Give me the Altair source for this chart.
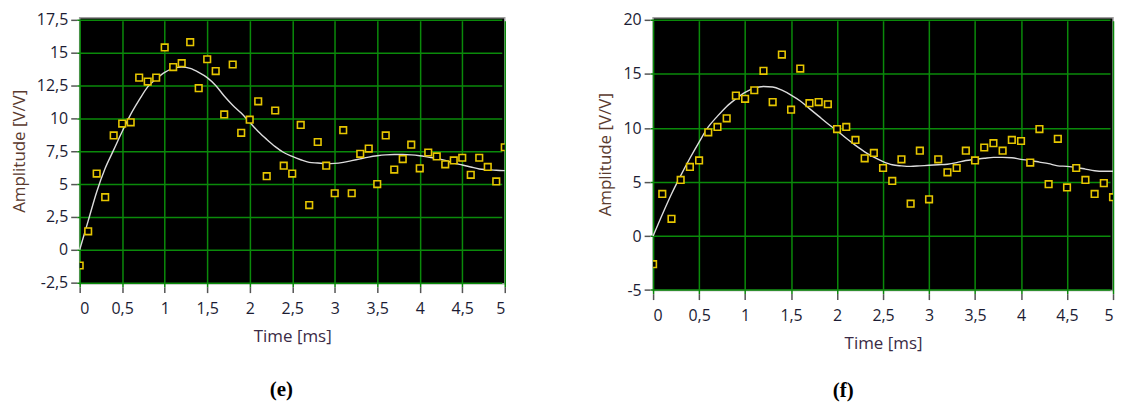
import altair as alt
import pandas as pd

time_ms = [0.0, 0.1, 0.2, 0.3, 0.4, 0.5, 0.6, 0.7, 0.8, 0.9,
           1.0, 1.1, 1.2, 1.3, 1.4, 1.5, 1.6, 1.7, 1.8, 1.9,
           2.0, 2.1, 2.2, 2.3, 2.4, 2.5, 2.6, 2.7, 2.8, 2.9,
           3.0, 3.1, 3.2, 3.3, 3.4, 3.5, 3.6, 3.7, 3.8, 3.9,
           4.0, 4.1, 4.2, 4.3, 4.4, 4.5, 4.6, 4.7, 4.8, 4.9, 5.0]

# panel (e)
e_points = [-1.2, 1.4, 5.8, 4.0, 8.7, 9.6, 9.7, 13.1, 12.8, 13.1,
            15.4, 13.9, 14.2, 15.8, 12.3, 14.5, 13.6, 10.3, 14.1, 8.9,
            9.9, 11.3, 5.6, 10.6, 6.4, 5.8, 9.5, 3.4, 8.2, 6.4,
            4.3, 9.1, 4.3, 7.3, 7.7, 5.0, 8.7, 6.1, 6.9, 8.0,
            6.2, 7.4, 7.1, 6.5, 6.8, 7.0, 5.7, 7.0, 6.3, 5.2, 7.8]
e_fit = [0.0, 2.2, 4.4, 6.2, 7.6, 9.0, 10.3, 11.4, 12.4, 13.0,
         13.5, 13.8, 13.9, 13.8, 13.5, 13.1, 12.5, 11.7, 11.0, 10.4,
         9.7, 9.0, 8.4, 7.85, 7.4, 7.1, 6.85, 6.65, 6.6, 6.55,
         6.57, 6.65, 6.78, 6.92, 7.05, 7.15, 7.22, 7.25, 7.25, 7.22,
         7.15, 7.05, 6.95, 6.8, 6.6, 6.45, 6.3, 6.15, 6.1, 6.05, 6.02]

# panel (f)
f_points = [-2.6, 3.9, 1.6, 5.2, 6.4, 7.0, 9.6, 10.1, 10.9, 13.0,
            12.7, 13.5, 15.3, 12.4, 16.8, 11.7, 15.5, 12.3, 12.4, 12.2,
            9.9, 10.1, 8.9, 7.2, 7.7, 6.3, 5.1, 7.1, 3.0, 7.9,
            3.4, 7.1, 5.9, 6.3, 7.9, 7.0, 8.2, 8.6, 7.9, 8.9,
            8.8, 6.8, 9.9, 4.8, 9.0, 4.5, 6.3, 5.2, 3.9, 4.9, 3.6]
f_fit = [0.0, 2.0, 3.9, 5.6, 7.2, 8.7, 10.1, 11.1, 12.0, 12.7,
         13.3, 13.7, 13.85, 13.8, 13.5, 13.05, 12.5, 11.8, 11.1, 10.4,
         9.75, 9.05, 8.4, 7.8, 7.3, 6.9, 6.6, 6.5, 6.45, 6.5,
         6.55, 6.6, 6.65, 6.8, 7.0, 7.1, 7.2, 7.28, 7.28, 7.25,
         7.1, 7.0, 6.85, 6.7, 6.5, 6.45, 6.35, 6.2, 6.05, 6.0, 6.0]

x_ticks = [0, 0.5, 1, 1.5, 2, 2.5, 3, 3.5, 4, 4.5, 5]
e_y_ticks = [-2.5, 0, 2.5, 5, 7.5, 10, 12.5, 15, 17.5]
f_y_ticks = [-5, 0, 5, 10, 15, 20]

x_title = "Time [ms]"
y_title = "Amplitude [V/V]"

LABEL_EXPR = "replace(toString(datum.value), '.', ',')"
LABEL_COLOR = "#1c1c34"
X_TITLE_COLOR = "#3a2a45"
Y_TITLE_COLOR = "#5a3a2e"
GRID = "#0a8a0a"


def panel(points, fit, y_ticks, y_domain, width, height, caption, cap_dx, cap_offset):
    df = pd.DataFrame({"t": time_ms, "meas": points, "fit": fit})
    x = alt.X("t:Q",
              scale=alt.Scale(domain=[0, 5], nice=False, zero=False),
              axis=alt.Axis(values=x_ticks, tickCount=50, labelExpr=LABEL_EXPR, title=x_title,
                            titlePadding=12, labelPadding=8, labelOverlap=False,
                            titleColor=X_TITLE_COLOR))
    y_axis = alt.Axis(values=y_ticks, tickCount=50, labelExpr=LABEL_EXPR, title=y_title,
                      titlePadding=8, labelPadding=3, labelOverlap=False,
                      titleColor=Y_TITLE_COLOR)
    base = alt.Chart(df)
    line = base.mark_line(color="#dcdcdc", strokeWidth=1.4, interpolate="monotone").encode(
        x=x,
        y=alt.Y("fit:Q", scale=alt.Scale(domain=y_domain, nice=False, zero=False), axis=y_axis),
    )
    pts = base.mark_point(shape="square", filled=True, fill="black", stroke="#e6c600",
                          strokeWidth=1.6, size=44, opacity=1, clip=True).encode(
        x=alt.X("t:Q"),
        y=alt.Y("meas:Q"),
    )
    return alt.layer(line, pts).properties(
        width=width, height=height,
        title=alt.TitleParams(caption, orient="bottom", anchor="middle",
                              font="Liberation Serif", fontSize=21, fontWeight="bold",
                              color="black", dx=cap_dx, offset=cap_offset),
    )


left = panel(e_points, e_fit, e_y_ticks, [-2.58, 17.65], 427, 267, "(e)", -11, 35)
right = panel(f_points, f_fit, f_y_ticks, [-5.05, 20.2], 462, 274, "(f)", -40, 29)

chart = alt.hconcat(left, right, spacing=87).properties(
    padding={"left": 1, "top": 2, "right": 0, "bottom": 0},
    background="white",
).configure_view(
    fill="black", stroke="#a0a0a0", strokeWidth=1.5
).configure_axis(
    grid=True, gridColor=GRID, gridWidth=1.5, gridOpacity=1,
    domain=False, offset=3,
    ticks=True, tickSize=6, tickWidth=1.5, tickColor="#555555",
    labelFont="Open Sans", labelFontSize=16, labelColor=LABEL_COLOR,
    titleFont="Open Sans", titleFontSize=17, titleFontWeight="normal",
)

chart.save("out.html", embed_options={"renderer": "svg", "actions": False})
